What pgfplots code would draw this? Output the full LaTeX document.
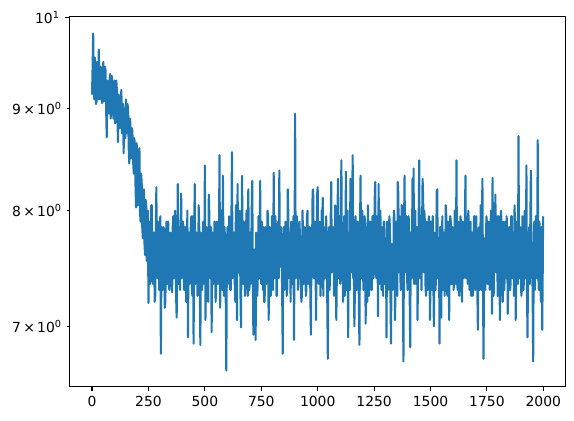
\documentclass[border=0pt]{standalone}
\usepackage{pgfplots}
\pgfplotsset{compat=1.18}
\usepackage{fontspec}
\setmainfont{DejaVu Sans}
\definecolor{mplblue}{HTML}{1F77B4}
\begin{document}
\begin{tikzpicture}
\begin{axis}[
  scale only axis, width=357pt, height=265.7pt,
  xmin=-99.95, xmax=2098.95,
  ymode=log, ymin=6.53, ymax=10.01,
  axis line style={line width=0.8pt},
  tick align=outside, tick pos=left,
  major tick length=3.5pt,
  every tick/.style={black, line width=0.8pt},
  xtick={0,250,...,2000},
  scaled x ticks=false,
  /pgf/number format/1000 sep={},
  /pgf/number format/assume math mode=true,
  ytick={10}, yticklabels={10\textsuperscript{1}},
  extra y ticks={7,8,9},
  extra y tick labels={7\,×\,10\textsuperscript{0},8\,×\,10\textsuperscript{0},9\,×\,10\textsuperscript{0}},
  extra y tick style={major tick length=2pt, every tick/.style={black, line width=0.6pt}},
  minor y tick num=0,
  yminorticks=false,
  ticklabel style={font=\fontsize{10}{12}\selectfont},
  clip=true,
]
\addplot[mplblue, line width=1.5pt, line join=round, mark=none] coordinates {
(0,9.15)(2.5,9.45)(5,9.82)(7.5,9.3)(10,9.1)(12.5,9.55)(15,9.45)(17.5,9.05)(20,9.08)(22.5,9.5)(25,9.35)(27.5,9.1)(30,9.64)(32.5,9.2)(35,9.1)(37.5,9.45)(40,9.3)(42.5,9.12)(45,9.06)(47.5,9.4)
(50,9.5)(52.5,9.08)(55,9.15)(57.5,9.45)(60,9.4)(62.5,9.0)(65,8.71)(67.5,9.3)(70,9.25)(72.5,9.05)(75,8.95)(77.5,9.3)(80,9.37)(82.5,8.9)(85,9.05)(87.5,9.35)(90,9.28)(92.5,9.0)(95,8.9)(97.5,9.25)
(100,9.3)(102.5,8.85)(105,8.95)(107.5,9.3)(110,9.2)(112.5,8.95)(115,8.66)(117.5,9.15)(120,9.1)(122.5,8.8)(125,8.85)(127.5,9.1)(130,9.2)(132.5,8.75)(135,8.9)(137.5,9.05)(140,8.55)(142.5,8.95)(145,9.0)(147.5,8.7)
(150,9.1)(152.5,8.8)(155,8.75)(157.5,9.05)(160,8.98)(162.5,8.6)(165,8.45)(167.5,8.9)(170,8.85)(172.5,8.5)(175,8.6)(177.5,8.8)(180,8.7)(182.5,8.45)(185,8.35)(187.5,8.7)(190,8.6)(192.5,8.25)(195,8.03)(197.5,8.65)
(200,8.55)(202.5,8.05)(205,8.15)(207.5,8.45)(210,8.6)(212.5,8.0)(215,7.9)(217.5,8.35)(220,8.27)(222.5,7.85)(225,7.75)(227.5,8.15)(230,8.2)(232.5,7.7)(235,7.6)(237.5,8.1)(240,8.05)(242.5,7.55)(245,7.85)(247.5,8.0)
(250,7.19)(252.5,7.85)(255,7.9)(257.5,7.35)(260,7.5)(262.5,8.05)(265,8.05)(267.5,7.4)(270,7.35)(272.5,7.8)(275,7.8)(277.5,7.2)(280,7.25)(282.5,7.75)(285,8.22)(287.5,7.45)(290,7.4)(292.5,7.9)(295,7.7)(297.5,7.3)
(300,7.3)(302.5,7.95)(305,6.78)(307.5,7.55)(310,7.85)(312.5,7.3)(315,7.45)(317.5,7.85)(320,7.65)(322.5,7.15)(325,7.2)(327.5,7.75)(330,7.9)(332.5,7.35)(335,7.5)(337.5,7.9)(340,7.35)(342.5,7.3)(345,7.75)(347.5,7.8)
(350,7.6)(352.5,7.35)(355,7.28)(357.5,7.85)(360,7.95)(362.5,7.4)(365,7.4)(367.5,8.0)(370,7.7)(372.5,7.25)(375,7.07)(377.5,7.6)(380,8.25)(382.5,7.35)(385,7.5)(387.5,7.85)(390,7.3)(392.5,7.8)(395,8.16)(397.5,7.4)
(400,7.45)(402.5,7.9)(405,7.85)(407.5,7.3)(410,7.3)(412.5,7.85)(415,7.65)(417.5,7.2)(420,7.55)(422.5,8.0)(425,6.91)(427.5,7.6)(430,7.8)(432.5,7.35)(435,7.4)(437.5,7.85)(440,7.95)(442.5,7.3)(445,7.25)(447.5,7.95)
(450,6.86)(452.5,7.7)(455,8.25)(457.5,7.35)(460,7.5)(462.5,7.8)(465,7.7)(467.5,7.25)(470,7.3)(472.5,8.05)(475,7.85)(477.5,7.4)(480,6.85)(482.5,7.8)(485,7.6)(487.5,7.3)(490,7.4)(492.5,7.9)(495,7.9)(497.5,7.35)
(500,8.43)(502.5,7.05)(505,7.35)(507.5,7.85)(510,7.7)(512.5,7.25)(515,7.2)(517.5,8.15)(520,7.95)(522.5,7.4)(525,7.5)(527.5,7.85)(530,6.95)(532.5,7.6)(535,7.8)(537.5,7.35)(540,7.45)(542.5,7.9)(545,7.65)(547.5,7.2)
(550,7.3)(552.5,7.9)(555,7.9)(557.5,7.35)(560,7.55)(562.5,7.8)(565,8.53)(567.5,7.15)(570,7.4)(572.5,8.0)(575,7.75)(577.5,7.3)(580,8.33)(582.5,7.6)(585,7.25)(587.5,7.85)(590,7.6)(592.5,7.25)(595,6.65)(597.5,7.6)
(600,7.85)(602.5,7.35)(605,7.4)(607.5,7.95)(610,7.7)(612.5,7.3)(615,7.3)(617.5,7.85)(620,8.56)(622.5,7.4)(625,7.5)(627.5,7.8)(630,7.8)(632.5,7.35)(635,7.2)(637.5,8.05)(640,7.65)(642.5,7.05)(645,8.25)(647.5,7.5)
(650,7.45)(652.5,8.0)(655,7.9)(657.5,7.3)(660,6.99)(662.5,7.75)(665,8.33)(667.5,7.4)(670,7.35)(672.5,7.9)(675,7.7)(677.5,7.25)(680,7.5)(682.5,7.85)(685,8.0)(687.5,7.4)(690,7.25)(692.5,8.2)(695,7.6)(697.5,7.3)
(700,7.8)(702.5,7.35)(705,7.4)(707.5,8.0)(710,8.28)(712.5,7.45)(715,6.93)(717.5,7.6)(720,7.65)(722.5,7.3)(725,6.89)(727.5,7.8)(730,7.75)(732.5,7.25)(735,7.45)(737.5,7.95)(740,7.9)(742.5,7.4)(745,8.28)(747.5,7.45)
(750,7.35)(752.5,7.9)(755,7.6)(757.5,7.3)(760,7.85)(762.5,7.2)(765,7.2)(767.5,7.85)(770,7.7)(772.5,7.35)(775,7.5)(777.5,8.0)(780,7.95)(782.5,7.05)(785,7.3)(787.5,7.85)(790,7.65)(792.5,7.25)(795,7.45)(797.5,7.95)
(800,7.8)(802.5,7.3)(805,8.36)(807.5,7.45)(810,7.4)(812.5,7.95)(815,7.7)(817.5,7.25)(820,7.25)(822.5,7.85)(825,7.9)(827.5,7.4)(830,8.38)(832.5,7.5)(835,7.5)(837.5,7.85)(840,7.6)(842.5,7.3)(845,6.78)(847.5,7.75)
(850,7.85)(852.5,7.3)(855,7.4)(857.5,7.9)(860,7.7)(862.5,7.25)(865,7.3)(867.5,8.2)(870,7.95)(872.5,7.4)(875,7.55)(877.5,7.8)(880,7.2)(882.5,7.9)(885,7.8)(887.5,7.35)(890,7.45)(892.5,7.95)(895,6.89)(897.5,7.7)
(900,8.95)(902.5,7.4)(905,7.5)(907.5,7.95)(910,7.75)(912.5,7.3)(915,7.35)(917.5,7.85)(920,7.9)(922.5,7.4)(925,7.6)(927.5,7.2)(930,7.25)(932.5,8.0)(935,7.8)(937.5,7.35)(940,7.45)(942.5,7.85)(945,7.7)(947.5,7.25)
(950,7.3)(952.5,7.95)(955,8.0)(957.5,7.35)(960,7.55)(962.5,7.85)(965,7.85)(967.5,7.25)(970,6.93)(972.5,7.75)(975,7.65)(977.5,8.18)(980,8.2)(982.5,7.4)(985,7.4)(987.5,7.9)(990,7.75)(992.5,7.05)(995,7.5)(997.5,8.15)
(1000,8.22)(1002.5,7.4)(1005,7.35)(1007.5,7.9)(1010,7.7)(1012.5,7.25)(1015,7.45)(1017.5,8.0)(1020,7.9)(1022.5,8.12)(1025,7.25)(1027.5,7.85)(1030,7.8)(1032.5,7.4)(1035,7.55)(1037.5,7.95)(1040,7.6)(1042.5,7.2)(1045,6.74)(1047.5,7.75)
(1050,7.85)(1052.5,7.3)(1055,7.4)(1057.5,7.9)(1060,8.27)(1062.5,7.45)(1065,7.5)(1067.5,7.85)(1070,7.7)(1072.5,7.25)(1075,7.3)(1077.5,8.05)(1080,7.95)(1082.5,7.05)(1085,7.45)(1087.5,7.9)(1090,8.3)(1092.5,7.4)(1095,7.6)(1097.5,7.95)
(1100,7.35)(1102.5,7.9)(1105,8.48)(1107.5,7.4)(1110,7.55)(1112.5,7.2)(1115,7.75)(1117.5,7.95)(1120,7.25)(1122.5,7.45)(1125,8.37)(1127.5,7.3)(1130,7.5)(1132.5,8.0)(1135,6.91)(1137.5,7.7)(1140,7.8)(1142.5,7.3)(1145,8.3)(1147.5,8.2)
(1150,7.45)(1152.5,7.85)(1155,8.53)(1157.5,7.4)(1160,7.6)(1162.5,7.0)(1165,7.3)(1167.5,7.95)(1170,7.85)(1172.5,7.3)(1175,7.5)(1177.5,7.9)(1180,7.7)(1182.5,7.2)(1185,6.85)(1187.5,7.8)(1190,8.33)(1192.5,7.4)(1195,7.4)(1197.5,8.0)
(1200,7.75)(1202.5,7.3)(1205,7.35)(1207.5,7.95)(1210,7.9)(1212.5,7.02)(1215,7.55)(1217.5,7.85)(1220,7.2)(1222.5,8.05)(1225,7.8)(1227.5,7.25)(1230,7.45)(1232.5,7.9)(1235,7.65)(1237.5,7.3)(1240,7.3)(1242.5,7.95)(1245,7.95)(1247.5,7.4)
(1250,7.5)(1252.5,8.1)(1255,8.27)(1257.5,7.45)(1260,7.4)(1262.5,7.95)(1265,7.7)(1267.5,7.08)(1270,8.25)(1272.5,7.5)(1275,7.35)(1277.5,8.0)(1280,7.8)(1282.5,7.3)(1285,7.6)(1287.5,7.85)(1290,7.25)(1292.5,7.9)(1295,7.9)(1297.5,7.35)
(1300,7.45)(1302.5,7.75)(1305,6.91)(1307.5,7.9)(1310,7.75)(1312.5,7.3)(1315,7.55)(1317.5,7.95)(1320,7.85)(1322.5,7.25)(1325,6.86)(1327.5,7.7)(1330,7.65)(1332.5,7.3)(1335,7.4)(1337.5,8.0)(1340,7.95)(1342.5,7.05)(1345,7.3)(1347.5,7.9)
(1350,7.6)(1352.5,7.25)(1355,8.27)(1357.5,8.15)(1360,7.45)(1362.5,7.95)(1365,7.8)(1367.5,7.3)(1370,7.35)(1372.5,8.05)(1375,7.7)(1377.5,7.35)(1380,6.72)(1382.5,7.8)(1385,8.33)(1387.5,7.45)(1390,7.5)(1392.5,7.95)(1395,7.65)(1397.5,7.3)
(1400,7.4)(1402.5,7.95)(1405,7.9)(1407.5,7.3)(1410,6.83)(1412.5,7.8)(1415,7.75)(1417.5,7.4)(1420,8.3)(1422.5,7.5)(1425,8.4)(1427.5,7.35)(1430,7.55)(1432.5,8.0)(1435,7.35)(1437.5,7.85)(1440,7.85)(1442.5,7.05)(1445,7.5)(1447.5,7.9)
(1450,8.48)(1452.5,7.4)(1455,7.6)(1457.5,7.95)(1460,7.3)(1462.5,7.85)(1465,8.3)(1467.5,8.1)(1470,7.45)(1472.5,8.0)(1475,7.9)(1477.5,7.35)(1480,7.25)(1482.5,7.9)(1485,7.7)(1487.5,7.3)(1490,7.55)(1492.5,7.95)(1495,7.8)(1497.5,7.05)
(1500,7.35)(1502.5,7.9)(1505,7.65)(1507.5,7.3)(1510,7.95)(1512.5,7.4)(1515,7.0)(1517.5,7.8)(1520,7.75)(1522.5,7.3)(1525,7.5)(1527.5,8.18)(1530,8.2)(1532.5,7.4)(1535,7.4)(1537.5,7.75)(1540,6.86)(1542.5,7.85)(1545,7.85)(1547.5,7.07)
(1550,7.6)(1552.5,7.95)(1555,7.3)(1557.5,7.8)(1560,7.8)(1562.5,7.25)(1565,7.45)(1567.5,8.05)(1570,7.95)(1572.5,7.3)(1575,7.25)(1577.5,7.9)(1580,7.7)(1582.5,7.05)(1585,7.55)(1587.5,7.95)(1590,7.9)(1592.5,7.35)(1595,7.35)(1597.5,7.85)
(1600,7.65)(1602.5,7.3)(1605,7.45)(1607.5,8.0)(1610,7.85)(1612.5,7.35)(1615,8.48)(1617.5,7.5)(1620,7.3)(1622.5,7.9)(1625,7.75)(1627.5,7.25)(1630,7.5)(1632.5,7.95)(1635,7.9)(1637.5,7.35)(1640,7.2)(1642.5,7.9)(1645,7.7)(1647.5,7.4)
(1650,7.45)(1652.5,7.95)(1655,8.33)(1657.5,7.4)(1660,7.6)(1662.5,7.85)(1665,7.35)(1667.5,8.0)(1670,7.85)(1672.5,7.3)(1675,7.55)(1677.5,7.9)(1680,7.25)(1682.5,7.8)(1685,7.8)(1687.5,7.25)(1690,7.5)(1692.5,7.95)(1695,7.95)(1697.5,7.3)
(1700,7.4)(1702.5,7.95)(1705,7.7)(1707.5,7.3)(1710,6.97)(1712.5,7.75)(1715,7.85)(1717.5,7.3)(1720,7.55)(1722.5,8.05)(1725,7.3)(1727.5,7.8)(1730,8.3)(1732.5,7.35)(1735,6.74)(1737.5,7.6)(1740,7.75)(1742.5,7.3)(1745,7.45)(1747.5,7.95)
(1750,7.9)(1752.5,7.35)(1755,7.35)(1757.5,7.9)(1760,7.65)(1762.5,7.3)(1765,7.5)(1767.5,8.0)(1770,7.8)(1772.5,7.1)(1775,8.31)(1777.5,7.45)(1780,7.25)(1782.5,7.95)(1785,7.7)(1787.5,8.15)(1790,7.45)(1792.5,7.9)(1795,7.95)(1797.5,7.25)
(1800,7.3)(1802.5,7.95)(1805,7.75)(1807.5,7.05)(1810,7.55)(1812.5,8.0)(1815,7.85)(1817.5,7.35)(1820,7.2)(1822.5,7.9)(1825,7.65)(1827.5,7.3)(1830,7.9)(1832.5,7.4)(1835,7.4)(1837.5,7.95)(1840,7.7)(1842.5,7.1)(1845,7.5)(1847.5,7.85)
(1850,7.85)(1852.5,7.3)(1855,7.35)(1857.5,7.95)(1860,7.95)(1862.5,7.4)(1865,7.55)(1867.5,7.8)(1870,7.25)(1872.5,8.05)(1875,7.8)(1877.5,7.05)(1880,7.45)(1882.5,7.9)(1885,7.7)(1887.5,7.35)(1890,8.72)(1892.5,7.4)(1895,7.4)(1897.5,7.85)
(1900,7.6)(1902.5,7.25)(1905,7.3)(1907.5,7.95)(1910,7.85)(1912.5,7.3)(1915,7.5)(1917.5,8.0)(1920,7.75)(1922.5,7.4)(1925,8.43)(1927.5,7.3)(1930,6.91)(1932.5,7.6)(1935,7.65)(1937.5,7.85)(1940,7.35)(1942.5,7.95)(1945,8.38)(1947.5,7.4)
(1950,7.55)(1952.5,7.3)(1955,6.72)(1957.5,7.7)(1960,7.9)(1962.5,7.3)(1965,7.45)(1967.5,7.95)(1970,7.7)(1972.5,7.4)(1975,8.68)(1977.5,7.45)(1980,7.3)(1982.5,7.9)(1985,7.8)(1987.5,7.3)(1990,7.2)(1992.5,7.85)(1995,6.97)(1997.5,7.5)(1999,7.95)
};
\end{axis}
\pgfresetboundingbox
\path ([shift={(-50pt,-24.5pt)}]current axis.south west) rectangle ([shift={(6pt,12.2pt)}]current axis.north east);
\end{tikzpicture}
\end{document}
